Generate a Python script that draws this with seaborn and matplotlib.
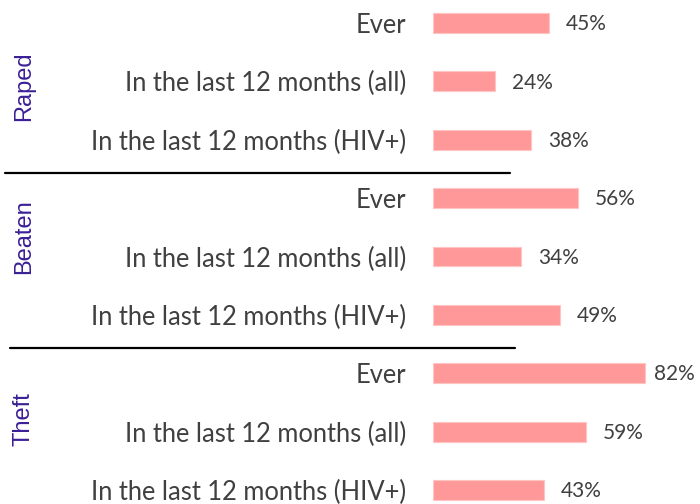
import pandas as pd
import matplotlib.pyplot as plt
import matplotlib.transforms as mtransforms
from matplotlib.lines import Line2D
import seaborn as sns

# data
groups = ["Raped", "Beaten", "Theft"]
items = ["Ever", "In the last 12 months (all)", "In the last 12 months (HIV+)"]
raped = [45, 24, 38]
beaten = [56, 34, 49]
theft = [82, 59, 43]

rows = []
for g, vals in zip(groups, [raped, beaten, theft]):
    for it, v in zip(items, vals):
        rows.append({"group": g, "item": it, "value": v})
df = pd.DataFrame(rows)
df["row"] = [str(i) for i in range(len(df))]

sns.set_theme(style="white")
plt.rcParams['font.family'] = ['Lato', 'DejaVu Sans']

bar_color = "#FF9999"
text_color = "#404040"
group_color = "#3B1F95"

fig = plt.figure(figsize=(7, 5.04), dpi=100)
ax = fig.add_axes([433 / 700, 0, 258.5 / 700, 1])

sns.barplot(data=df, x="value", y="row", orient="h", color=bar_color,
            width=0.34, saturation=1, edgecolor="#FFC4C4", linewidth=0.8, ax=ax)

ax.set_xlim(0, 100)
ax.set_ylim(8 + 14 / 58.5, -23 / 58.5)
ax.set_xlabel("")
ax.set_ylabel("")
ax.set_xticks([])
ax.set_yticks(range(len(df)))
ax.set_yticklabels(df["item"], fontsize=18.4, color=text_color)
ax.tick_params(axis="y", length=0, pad=19)
for s in ax.spines.values():
    s.set_visible(False)

# value labels; keep the last one inside the figure like the original
for i, v in enumerate(df["value"]):
    ax.text(min(v + 6.5, 85.5), i + 0.02, f"{v}%", va="center", ha="left",
            fontsize=15, color=text_color)

# group labels (x in figure coords, y in data coords)
trans = mtransforms.blended_transform_factory(fig.transFigure, ax.transData)
group_y = [1.09, 3.66, 6.78]
for g, gy in zip(groups, group_y):
    ax.text(24 / 700, gy, g, rotation=90, va="center", ha="center",
            fontsize=17, color=group_color, transform=trans,
            family=['Liberation Sans', 'DejaVu Sans'])

# separators
fig.add_artist(Line2D([5 / 700, 510 / 700], [1 - 173 / 504, 1 - 173 / 504],
                      color="black", lw=1.6))
fig.add_artist(Line2D([10 / 700, 515 / 700], [1 - 348 / 504, 1 - 348 / 504],
                      color="black", lw=1.6))

fig.savefig("out.png", dpi=100)
